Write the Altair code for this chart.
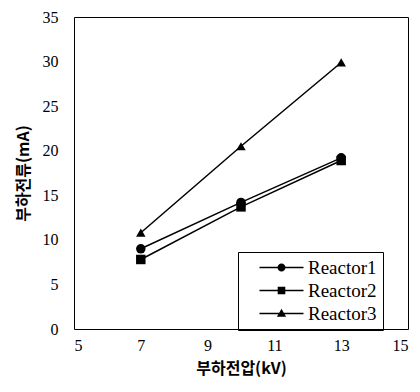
import altair as alt
import pandas as pd

voltage = [7, 10, 13]
series_names = ["Reactor1", "Reactor2", "Reactor3"]
reactor1 = [9.0, 14.2, 19.2]
reactor2 = [7.8, 13.7, 18.9]
reactor3 = [10.8, 20.5, 29.9]

rows = []
for name, vals in zip(series_names, [reactor1, reactor2, reactor3]):
    for v, c in zip(voltage, vals):
        rows.append({"series": name, "kV": v, "mA": c})
df = pd.DataFrame(rows)

x_ticks = [5, 7, 9, 11, 13, 15]
y_ticks = [0, 5, 10, 15, 20, 25, 30, 35]

xs = alt.Scale(domain=[5, 15], nice=False)
ys = alt.Scale(domain=[0, 35], nice=False)

x_axis = alt.Axis(title="부하전압(kV)", values=x_ticks, ticks=False, labelPadding=8, grid=False)
y_axis = alt.Axis(title="부하전류(mA)", values=y_ticks, ticks=False, labelPadding=16, grid=False)

base = alt.Chart(df)

lines = base.mark_line(color="black", strokeWidth=1.5).encode(
    x=alt.X("kV:Q", scale=xs, axis=x_axis),
    y=alt.Y("mA:Q", scale=ys, axis=y_axis),
    detail="series:N",
)

points = base.mark_point(filled=True, color="black", opacity=1, size=90).encode(
    x=alt.X("kV:Q", scale=xs),
    y=alt.Y("mA:Q", scale=ys),
    shape=alt.Shape("series:N", scale=alt.Scale(domain=series_names,
                    range=["circle", "square", "triangle-up"]), legend=None),
)

legend_paths = [
    "M-5.5,-0.2H5.5V0.2H-5.5ZM1,0A1,1,0,1,1,-1,0A1,1,0,1,1,1,0Z",
    "M-5.5,-0.2H5.5V0.2H-5.5ZM-0.95,-0.95H0.95V0.95H-0.95Z",
    "M-5.5,-0.2H5.5V0.2H-5.5ZM0,-1.2L1.15,0.8H-1.15Z",
]

legend_layer = base.transform_calculate(yy="datum.mA + 100").mark_point(
    filled=True, color="black", opacity=1, clip=True
).encode(
    x=alt.X("kV:Q", scale=xs),
    y=alt.Y("yy:Q", scale=ys),
    shape=alt.Shape("series:N", scale=alt.Scale(domain=series_names, range=legend_paths),
                    legend=alt.Legend(title=None, orient="none", legendX=164, legendY=235,
                                      strokeColor="black", padding=6, symbolSize=64,
                                      symbolFillColor="black", symbolStrokeWidth=0,
                                      symbolOffset=28, labelOffset=17, rowPadding=3,
                                      labelFont="Liberation Serif", labelFontSize=19,
                                      labelColor="black")),
)

chart = alt.layer(lines, points, legend_layer).resolve_scale(shape="independent").properties(
    width=334, height=312,
    autosize=alt.AutoSizeParams(type="none"),
    padding={"left": 66, "top": 9, "right": 4, "bottom": 50},
).configure_view(stroke="black", strokeWidth=1).configure_axis(
    domain=False,
    labelFont="Liberation Serif", labelFontSize=16, labelColor="black",
    titleFont="Noto Sans CJK KR", titleFontSize=16, titleFontWeight="bold", titleColor="black",
).configure_axisX(titlePadding=7).configure_axisY(titlePadding=11)

chart.save("out.html", embed_options={"renderer": "svg", "actions": False})
